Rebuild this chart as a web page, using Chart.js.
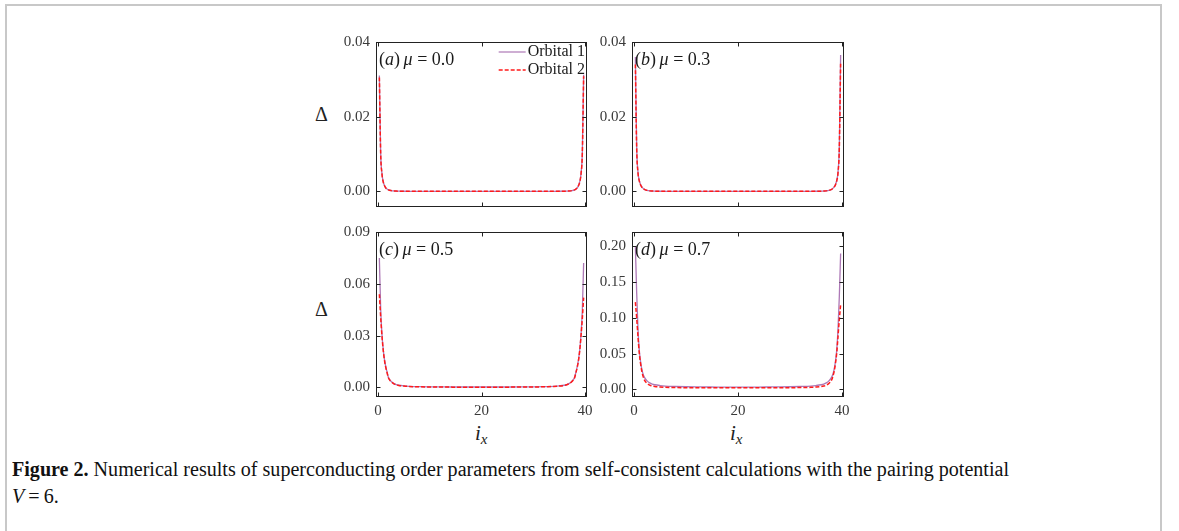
<!DOCTYPE html>
<html><head><meta charset="utf-8">
<script src="https://cdn.jsdelivr.net/npm/chart.js@4"></script>
<style>
html,body{margin:0;padding:0;background:#fff;}
body{width:1179px;height:531px;position:relative;overflow:hidden;font-family:"Liberation Serif",serif;}
.frame{position:absolute;background:#c8c8c8;}
canvas{position:absolute;}
.lab{position:absolute;color:#222;white-space:nowrap;line-height:1;font-family:"Liberation Serif",serif;}
#cap1,#cap2{position:absolute;left:12px;white-space:nowrap;font-size:20px;line-height:1;color:#111;transform-origin:0 50%;}
</style></head><body>
<div class="frame" style="left:5px;top:4px;width:1157px;height:2px"></div>
<div class="frame" style="left:5px;top:4px;width:2px;height:527px"></div>
<div class="frame" style="left:1160px;top:4px;width:2px;height:527px"></div>

<div class="lab" style="left:315px;top:104px;font-size:20px">Δ</div>
<div class="lab" style="left:315px;top:299px;font-size:20px">Δ</div>
<div class="lab" style="left:475px;top:423px;font-size:21px"><i>i</i><sub style="font-size:15px;font-style:italic;vertical-align:-4px">x</sub></div>
<div class="lab" style="left:730px;top:423px;font-size:21px"><i>i</i><sub style="font-size:15px;font-style:italic;vertical-align:-4px">x</sub></div>

<div id="cap1" style="top:459px"><b>Figure 2.</b> Numerical results of superconducting order parameters from self-consistent calculations with the pairing potential</div>
<div id="cap2" style="top:486px"><i>V</i>&#8201;=&#8201;6.</div>

<script>
// ---- data ----
const xs = [0.25, 0.5, 0.75, 1, 1.25, 1.5, 1.75, 2, 2.5, 3, 3.5, 4, 5, 6,
            8, 10, 12, 14, 16, 18, 20, 22, 24, 26, 28, 30, 32,
            34, 35, 36, 36.5, 37, 37.5, 38, 38.25, 38.5, 38.75, 39, 39.25, 39.5, 39.75];

const seriesNames = ['Orbital 1', 'Orbital 2'];
const panelLetters = ['a', 'b', 'c', 'd'];
const muValues = ['0.0', '0.3', '0.5', '0.7'];

const xTicks = [0, 20, 40];
const yTicksA = [0, 0.02, 0.04];
const yTicksB = [0, 0.02, 0.04];
const yTicksC = [0, 0.03, 0.06, 0.09];
const yTicksD = [0, 0.05, 0.10, 0.15, 0.20];

const a_orb1 = [0.031, 0.0105, 0.0048, 0.0026, 0.0015, 0.0009, 0.0006, 0.0004, 0.0002, 0.0001, 0.00006, 0.00004, 0.00002, 0.00001,
  0, 0, 0, 0, 0, 0, 0, 0, 0, 0, 0, 0, 0,
  0.00001, 0.00002, 0.00004, 0.00006, 0.0001, 0.0002, 0.0004, 0.0006, 0.0009, 0.0015, 0.0026, 0.0048, 0.0106, 0.0312];
const a_orb2 = [0.0305, 0.0103, 0.0047, 0.0025, 0.0015, 0.0009, 0.0006, 0.0004, 0.0002, 0.0001, 0.00006, 0.00004, 0.00002, 0.00001,
  0, 0, 0, 0, 0, 0, 0, 0, 0, 0, 0, 0, 0,
  0.00001, 0.00002, 0.00004, 0.00006, 0.0001, 0.0002, 0.0004, 0.0006, 0.0009, 0.0015, 0.0025, 0.0047, 0.0104, 0.0308];
const b_orb1 = [0.036, 0.012, 0.0052, 0.0029, 0.0018, 0.0012, 0.0008, 0.0005, 0.00025, 0.00012, 0.00007, 0.00004, 0.00002, 0.00001,
  0, 0, 0, 0, 0, 0, 0, 0, 0, 0, 0, 0, 0,
  0.00001, 0.00002, 0.00004, 0.00007, 0.00012, 0.00025, 0.0005, 0.0008, 0.0012, 0.0018, 0.0029, 0.0052, 0.0122, 0.0365];
const b_orb2 = [0.034, 0.0115, 0.005, 0.0028, 0.0017, 0.0011, 0.0008, 0.0005, 0.00025, 0.00012, 0.00007, 0.00004, 0.00002, 0.00001,
  0, 0, 0, 0, 0, 0, 0, 0, 0, 0, 0, 0, 0,
  0.00001, 0.00002, 0.00004, 0.00007, 0.00012, 0.00025, 0.0005, 0.0008, 0.0011, 0.0017, 0.0028, 0.005, 0.0117, 0.0345];
const c_orb1 = [0.075, 0.046, 0.031, 0.022, 0.016, 0.012, 0.0088, 0.0058, 0.0036, 0.0024, 0.0017, 0.0013, 0.0009, 0.0007,
  0.0005, 0.0004, 0.00035, 0.0003, 0.0003, 0.0003, 0.0003, 0.0003, 0.0003, 0.0003, 0.00035, 0.0004, 0.0005,
  0.0007, 0.0009, 0.0013, 0.0017, 0.0024, 0.0036, 0.0058, 0.0088, 0.012, 0.016, 0.022, 0.031, 0.045, 0.072];
const c_orb2 = [0.054, 0.041, 0.030, 0.0215, 0.0155, 0.0115, 0.0085, 0.0056, 0.0035, 0.0023, 0.0016, 0.0012, 0.0008, 0.0006,
  0.0004, 0.0003, 0.00025, 0.00022, 0.0002, 0.0002, 0.0002, 0.0002, 0.0002, 0.00022, 0.00025, 0.0003, 0.0004,
  0.0006, 0.0008, 0.0012, 0.0016, 0.0023, 0.0035, 0.0056, 0.0085, 0.0115, 0.0155, 0.0215, 0.030, 0.040, 0.052];
const d_orb1 = [0.20, 0.135, 0.085, 0.055, 0.039, 0.028, 0.021, 0.017, 0.012, 0.0092, 0.0076, 0.0066, 0.0055, 0.0048,
  0.0042, 0.0038, 0.0036, 0.0035, 0.0034, 0.0034, 0.0034, 0.0034, 0.0034, 0.0035, 0.0036, 0.0038, 0.0042,
  0.0048, 0.0055, 0.0066, 0.0076, 0.0092, 0.012, 0.017, 0.021, 0.028, 0.039, 0.055, 0.085, 0.13, 0.19];
const d_orb2 = [0.122, 0.10, 0.074, 0.051, 0.036, 0.025, 0.018, 0.013, 0.0085, 0.006, 0.0048, 0.0041, 0.0034, 0.003,
  0.0027, 0.0025, 0.0024, 0.0023, 0.0023, 0.0023, 0.0023, 0.0023, 0.0023, 0.0023, 0.0024, 0.0025, 0.0027,
  0.003, 0.0034, 0.0041, 0.0048, 0.006, 0.0085, 0.013, 0.018, 0.025, 0.036, 0.051, 0.074, 0.098, 0.118];

// ---- panel layout (plot-area boxes) ----
const panels = [
  {o1: a_orb1, o2: a_orb2, yt: yTicksA, ymin: -0.0042, ymax: 0.04, L: 376, R: 587, T: 39, B: 207, xlab: false, legend: true},
  {o1: b_orb1, o2: b_orb2, yt: yTicksB, ymin: -0.0042, ymax: 0.04, L: 632, R: 844, T: 39, B: 207, xlab: false, legend: false},
  {o1: c_orb1, o2: c_orb2, yt: yTicksC, ymin: -0.0055, ymax: 0.09, L: 376, R: 587, T: 229, B: 397, xlab: true, legend: false},
  {o1: d_orb1, o2: d_orb2, yt: yTicksD, ymin: -0.0105, ymax: 0.22, L: 632, R: 844, T: 229, B: 397, xlab: true, legend: false}
];

const C1 = '#ad78b6';
const C2 = '#ff1a1a';
const FONT = '"Liberation Serif", serif';
const YW = 60, PADT = 12, PADR = 12, XH = 28;

const framePlugin = {
  id: 'frameTicks',
  afterDatasetsDraw(chart, args, opts) {
    const ctx = chart.ctx;
    const {left, right, top, bottom} = chart.chartArea;
    const x = chart.scales.x, y = chart.scales.y;
    ctx.save();
    ctx.strokeStyle = '#222';
    ctx.lineWidth = 1;
    const l = Math.round(left) + 0.5, r = Math.round(right) - 0.5, t = Math.round(top) + 0.5, b = Math.round(bottom) - 0.5;
    ctx.strokeRect(l, t, r - l, b - t);
    ctx.beginPath();
    x.ticks.forEach(tk => {
      const px = Math.round(x.getPixelForValue(tk.value)) + 0.5;
      ctx.moveTo(px, b); ctx.lineTo(px, b - 4);
      ctx.moveTo(px, t); ctx.lineTo(px, t + 4);
    });
    y.ticks.forEach(tk => {
      const py = Math.round(y.getPixelForValue(tk.value)) + 0.5;
      ctx.moveTo(l, py); ctx.lineTo(l + 4, py);
      ctx.moveTo(r, py); ctx.lineTo(r - 4, py);
    });
    ctx.stroke();

    // panel label
    ctx.fillStyle = '#1a1a1a';
    ctx.textBaseline = 'middle';
    const pieces = [['(', ''], [opts.letter, 'italic '], [')', ''], ['\u2009', ''], ['μ', 'italic '], [' = ', ''], [opts.mu, '']];
    let cx = left + 3;
    const cy = top + 18;
    pieces.forEach(([txt, st]) => {
      ctx.font = st + '18px ' + FONT;
      ctx.fillText(txt, cx, cy);
      cx += ctx.measureText(txt).width;
    });

    // legend
    if (opts.legend) {
      ctx.font = '16px ' + FONT;
      ctx.textAlign = 'right';
      const rows = [[seriesNames[0], C1, []], [seriesNames[1], C2, [4, 2]]];
      rows.forEach(([name, col, dash], i) => {
        const yy = top + 10 + i * 18;
        ctx.fillStyle = '#1a1a1a';
        ctx.fillText(name, right - 2, yy);
        const w = ctx.measureText(name).width;
        const x1 = right - 2 - w - 2;
        ctx.beginPath();
        ctx.setLineDash(dash);
        ctx.strokeStyle = col;
        ctx.lineWidth = i === 0 ? 1.2 : 1.5;
        ctx.moveTo(x1 - 27, yy); ctx.lineTo(x1, yy);
        ctx.stroke();
        ctx.setLineDash([]);
      });
    }
    ctx.restore();
  }
};

panels.forEach((p, i) => {
  const cv = document.createElement('canvas');
  const W = (p.R - p.L) + YW + PADR;
  const H = (p.B - p.T) + PADT + XH;
  cv.width = W; cv.height = H;
  cv.style.left = (p.L - YW) + 'px';
  cv.style.top = (p.T - PADT) + 'px';
  cv.style.width = W + 'px'; cv.style.height = H + 'px';
  document.body.appendChild(cv);

  new Chart(cv.getContext('2d'), {
    type: 'line',
    data: {
      datasets: [
        {label: seriesNames[0], data: xs.map((v, k) => ({x: v, y: p.o1[k]})), borderColor: C1, borderWidth: 1.3,
         pointRadius: 0, cubicInterpolationMode: 'monotone', order: 1, fill: false},
        {label: seriesNames[1], data: xs.map((v, k) => ({x: v, y: p.o2[k]})), borderColor: C2, borderWidth: 1.5,
         borderDash: [4, 2], pointRadius: 0, cubicInterpolationMode: 'monotone', order: 0, fill: false}
      ]
    },
    options: {
      responsive: false,
      animation: false,
      devicePixelRatio: 1,
      layout: {padding: {left: 0, top: PADT, right: PADR, bottom: 0}},
      plugins: {legend: {display: false}, tooltip: {enabled: false},
        frameTicks: {letter: panelLetters[i], mu: muValues[i], legend: p.legend}},
      scales: {
        x: {
          type: 'linear', min: -0.4, max: 40.4,
          afterBuildTicks: s => { s.ticks = xTicks.map(v => ({value: v})); },
          afterFit: s => { s.height = XH; },
          grid: {display: false, drawTicks: false}, border: {display: false},
          ticks: {display: p.xlab, padding: 5, color: '#3a3a3a', font: {family: FONT, size: 15},
                  maxRotation: 0, callback: v => String(v)}
        },
        y: {
          type: 'linear', min: p.ymin, max: p.ymax,
          afterBuildTicks: s => { s.ticks = p.yt.map(v => ({value: v})); },
          afterFit: s => { s.width = YW; },
          grid: {display: false, drawTicks: false}, border: {display: false},
          ticks: {padding: 6, color: '#3a3a3a', font: {family: FONT, size: 15}, callback: v => Number(v).toFixed(2)}
        }
      }
    },
    plugins: [framePlugin]
  });
});

function fitCaption() {
  const c = document.getElementById('cap1');
  c.style.transform = 'none';
  const w = c.getBoundingClientRect().width;
  const s = 997 / w;
  c.style.transform = 'scaleX(' + s + ')';
  document.getElementById('cap2').style.transform = 'scaleX(' + s + ')';
}
fitCaption();
if (document.fonts && document.fonts.ready) document.fonts.ready.then(fitCaption);
</script>
</body></html>
